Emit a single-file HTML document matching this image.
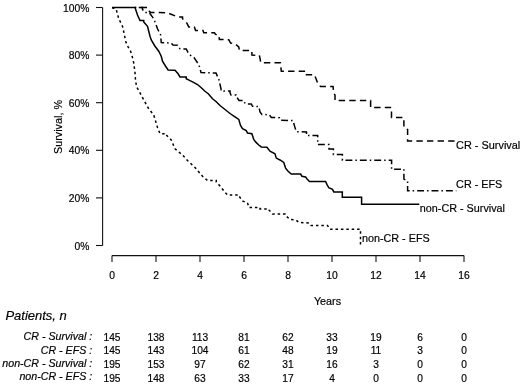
<!DOCTYPE html>
<html><head><meta charset="utf-8"><title>Survival</title>
<style>html,body{margin:0;padding:0;background:#fff}body{width:520px;height:384px;overflow:hidden;font-family:"Liberation Sans",sans-serif}</style></head>
<body>
<svg width="520" height="384" viewBox="0 0 520 384" style="display:block;filter:grayscale(1)">
<rect width="520" height="384" fill="#fff"/>
<g stroke="#111" stroke-width="1.1" fill="none">
<path d="M102.6 7.50 V245.50"/>
<path d="M96 245.50 H102.6"/>
<path d="M96 197.90 H102.6"/>
<path d="M96 150.30 H102.6"/>
<path d="M96 102.70 H102.6"/>
<path d="M96 55.10 H102.6"/>
<path d="M96 7.50 H102.6"/>
<path d="M112.00 255.6 H464.00"/>
<path d="M112.00 255.6 V262"/>
<path d="M156.00 255.6 V262"/>
<path d="M200.00 255.6 V262"/>
<path d="M244.00 255.6 V262"/>
<path d="M288.00 255.6 V262"/>
<path d="M332.00 255.6 V262"/>
<path d="M376.00 255.6 V262"/>
<path d="M420.00 255.6 V262"/>
<path d="M464.00 255.6 V262"/>
</g>
<g font-family="Liberation Sans, sans-serif" font-size="10.8" fill="#000" stroke="#000" stroke-width="0.18">
<text x="89.4" y="249.60" text-anchor="end" font-size="10.3">0%</text>
<text x="89.4" y="202.00" text-anchor="end" font-size="10.3">20%</text>
<text x="89.4" y="154.40" text-anchor="end" font-size="10.3">40%</text>
<text x="89.4" y="106.80" text-anchor="end" font-size="10.3">60%</text>
<text x="89.4" y="59.20" text-anchor="end" font-size="10.3">80%</text>
<text x="89.4" y="11.60" text-anchor="end" font-size="10.3">100%</text>
<text x="112.00" y="278.8" text-anchor="middle" font-size="10.3">0</text>
<text x="156.00" y="278.8" text-anchor="middle" font-size="10.3">2</text>
<text x="200.00" y="278.8" text-anchor="middle" font-size="10.3">4</text>
<text x="244.00" y="278.8" text-anchor="middle" font-size="10.3">6</text>
<text x="288.00" y="278.8" text-anchor="middle" font-size="10.3">8</text>
<text x="332.00" y="278.8" text-anchor="middle" font-size="10.3">10</text>
<text x="376.00" y="278.8" text-anchor="middle" font-size="10.3">12</text>
<text x="420.00" y="278.8" text-anchor="middle" font-size="10.3">14</text>
<text x="464.00" y="278.8" text-anchor="middle" font-size="10.3">16</text>
<text x="327.5" y="304.5" text-anchor="middle">Years</text>
<text transform="translate(62 127) rotate(-90)" text-anchor="middle">Survival, %</text>
<text x="456.1" y="148.8" textLength="64.2" lengthAdjust="spacingAndGlyphs">CR - Survival</text>
<text x="456.1" y="187.8">CR - EFS</text>
<text x="419.8" y="212.3">non-CR - Survival</text>
<text x="361.9" y="242.1">non-CR - EFS</text>
<text x="5.4" y="319.8" font-size="13" font-style="italic">Patients, n</text>
<text x="92.2" y="340.40" text-anchor="end" font-style="italic" font-size="10.65">CR - Survival :</text>
<text x="112.00" y="341.30" text-anchor="middle" font-size="10.2">145</text>
<text x="156.00" y="341.30" text-anchor="middle" font-size="10.2">138</text>
<text x="200.00" y="341.30" text-anchor="middle" font-size="10.2">113</text>
<text x="244.00" y="341.30" text-anchor="middle" font-size="10.2">81</text>
<text x="288.00" y="341.30" text-anchor="middle" font-size="10.2">62</text>
<text x="332.00" y="341.30" text-anchor="middle" font-size="10.2">33</text>
<text x="376.00" y="341.30" text-anchor="middle" font-size="10.2">19</text>
<text x="420.00" y="341.30" text-anchor="middle" font-size="10.2">6</text>
<text x="464.00" y="341.30" text-anchor="middle" font-size="10.2">0</text>
<text x="92.2" y="353.50" text-anchor="end" font-style="italic" font-size="10.65">CR - EFS :</text>
<text x="112.00" y="354.40" text-anchor="middle" font-size="10.2">145</text>
<text x="156.00" y="354.40" text-anchor="middle" font-size="10.2">143</text>
<text x="200.00" y="354.40" text-anchor="middle" font-size="10.2">104</text>
<text x="244.00" y="354.40" text-anchor="middle" font-size="10.2">61</text>
<text x="288.00" y="354.40" text-anchor="middle" font-size="10.2">48</text>
<text x="332.00" y="354.40" text-anchor="middle" font-size="10.2">19</text>
<text x="376.00" y="354.40" text-anchor="middle" font-size="10.2">11</text>
<text x="420.00" y="354.40" text-anchor="middle" font-size="10.2">3</text>
<text x="464.00" y="354.40" text-anchor="middle" font-size="10.2">0</text>
<text x="92.2" y="366.80" text-anchor="end" font-style="italic" font-size="10.65">non-CR - Survival :</text>
<text x="112.00" y="367.60" text-anchor="middle" font-size="10.2">195</text>
<text x="156.00" y="367.60" text-anchor="middle" font-size="10.2">153</text>
<text x="200.00" y="367.60" text-anchor="middle" font-size="10.2">97</text>
<text x="244.00" y="367.60" text-anchor="middle" font-size="10.2">62</text>
<text x="288.00" y="367.60" text-anchor="middle" font-size="10.2">31</text>
<text x="332.00" y="367.60" text-anchor="middle" font-size="10.2">16</text>
<text x="376.00" y="367.60" text-anchor="middle" font-size="10.2">3</text>
<text x="420.00" y="367.60" text-anchor="middle" font-size="10.2">0</text>
<text x="464.00" y="367.60" text-anchor="middle" font-size="10.2">0</text>
<text x="92.2" y="380.00" text-anchor="end" font-style="italic" font-size="10.65">non-CR - EFS :</text>
<text x="112.00" y="381.50" text-anchor="middle" font-size="10.2">195</text>
<text x="156.00" y="381.50" text-anchor="middle" font-size="10.2">148</text>
<text x="200.00" y="381.50" text-anchor="middle" font-size="10.2">63</text>
<text x="244.00" y="381.50" text-anchor="middle" font-size="10.2">33</text>
<text x="288.00" y="381.50" text-anchor="middle" font-size="10.2">17</text>
<text x="332.00" y="381.50" text-anchor="middle" font-size="10.2">4</text>
<text x="376.00" y="381.50" text-anchor="middle" font-size="10.2">0</text>
<text x="420.00" y="381.50" text-anchor="middle" font-size="10.2">0</text>
<text x="464.00" y="381.50" text-anchor="middle" font-size="10.2">0</text>
</g>
<g stroke="#000" stroke-width="1.5" fill="none" stroke-linejoin="miter">
<path d="M112.00 7.60 L135.00 7.60 L137.50 15.00 L140.00 20.60 H143.75 V21.90 L147.50 26.25 L150.00 36.25 L151.25 40.00 L155.00 46.25 L158.75 51.25 L161.25 56.25 L162.50 61.25 L165.60 66.25 L168.10 70.00 L175.00 70.20 L178.10 73.75 L180.00 76.90 H186.25 V78.75 L190.00 80.60 L192.50 81.80 L197.50 84.50 L201.00 87.50 L205.00 91.25 L208.50 94.00 L212.50 98.75 L216.00 101.50 L220.00 105.50 L225.00 109.50 L230.00 113.50 L235.00 116.90 L238.75 119.40 L240.60 125.60 L242.50 128.75 L246.25 130.60 L247.50 133.10 L251.90 133.75 L253.75 139.40 L255.60 141.90 L258.75 145.00 L261.25 146.90 L266.90 147.25 L270.00 151.25 L275.00 153.75 L276.25 158.10 L280.00 160.00 L283.75 162.50 L285.60 168.10 L288.10 171.25 L291.25 174.00 L300.60 174.00 L301.90 176.25 L305.60 176.90 L306.90 178.75 L309.40 181.50 L325.60 181.50 L326.90 184.40 L328.75 187.75 L332.50 189.40 L333.75 191.90 L342.30 192.10 L342.30 197.30 L361.60 197.30 L361.60 204.20 L419.30 204.20"/>
<path d="M112.00 7.60 L116.25 9.40 L118.75 18.75 L122.50 26.25 L124.40 35.00 L125.60 41.25 L128.10 46.90 L130.60 51.25 L132.50 57.50 L133.75 63.10 L135.00 72.50 L135.50 80.00 L136.60 87.00 L138.75 90.50 L143.75 100.00 L148.75 108.75 L153.75 115.00 L157.50 127.50 L160.00 133.75 H166.25 V135.00 L171.25 140.00 L175.00 148.75 L182.50 155.00 L187.50 160.50 L195.00 167.50 L202.50 176.25 L207.50 180.50 H216.25 V182.00 L220.00 186.00 L224.00 191.00 L227.50 195.00 H239.00 V196.00 L242.50 201.00 L247.50 203.00 L249.00 207.50 H260.00 V209.00 H269.00 V210.00 L272.50 214.00 H285.00 V215.00 L290.00 219.50 L296.00 220.00 L299.00 222.50 L309.00 223.00 L311.00 225.50 L327.50 225.50 L330.00 229.30 L360.50 229.30 L360.50 246.00" stroke-dasharray="2.5 2.9"/>
<path d="M135.00 7.60 H142.50 V9.40 L145.00 12.50 H150.00 V13.75 L153.75 18.75 L157.50 28.75 L160.60 35.00 L161.25 42.50 L171.25 43.10 L173.10 45.00 L177.50 45.25 L180.00 48.75 L186.25 49.00 L188.10 52.50 L190.00 55.00 L194.00 57.50 L199.00 65.00 L201.00 72.50 L216.00 73.00 L219.00 80.00 L221.25 90.00 H224.00 V91.00 H230.00 V92.50 L231.00 95.00 H236.00 V96.00 L239.00 100.50 H243.75 V101.50 L245.60 104.00 L251.25 104.00 L252.50 106.25 L258.75 106.50 L260.00 111.90 L261.90 114.40 L269.40 114.75 L271.25 117.50 L279.40 117.75 L280.60 120.25 L293.10 120.60 L294.40 125.60 L296.25 131.60 L306.50 132.00 L306.50 135.60 L317.70 135.60 L317.70 144.50 L329.00 144.50 L329.00 149.00 L333.40 149.00 L333.40 154.50 L342.40 154.50 L342.40 160.20 L391.60 160.20 L391.60 169.20 L403.90 169.20 L403.90 179.00 L407.60 181.00 L407.60 190.80 L456.30 190.80" stroke-dasharray="6.9 3 1.5 3" stroke-dashoffset="10.65"/>
<path d="M135.00 7.60 H147.50 V9.40 L150.60 12.50 L167.50 12.75 L177.50 16.90 H182.50 V18.75 L186.90 23.10 L188.75 26.90 L194.40 26.90 L195.60 30.60 L203.00 30.60 L203.75 32.75 L214.40 32.75 L215.60 34.40 L218.75 35.00 L219.40 39.40 L228.75 39.75 L230.60 43.10 L235.00 43.75 L238.75 46.90 L239.40 50.60 L251.90 50.60 L251.90 55.00 L259.40 55.30 L260.80 62.75 L280.40 62.75 L281.30 71.20 L305.60 71.20 L305.60 74.75 L314.40 74.75 L316.50 80.00 L318.10 84.40 L320.60 86.50 L333.10 86.50 L333.60 93.00 L335.00 95.00 L335.00 100.60 L370.60 100.60 L370.60 107.50 L391.50 107.50 L391.50 117.50 L403.90 117.50 L403.90 127.50 L407.60 129.50 L407.60 141.00 L456.00 141.00" stroke-dasharray="6.4 4.2" stroke-dashoffset="5"/>
</g>
</svg>
</body></html>
